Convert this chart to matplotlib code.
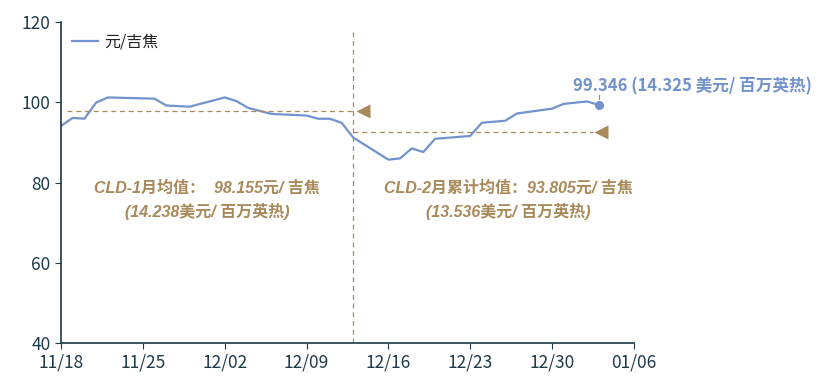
import numpy as np
import pandas as pd
import matplotlib
matplotlib.use("Agg")
from matplotlib import pyplot as plt
import matplotlib.dates as mdates

plt.rcParams['font.family'] = ['Liberation Sans Narrow', 'Noto Sans CJK SC', 'DejaVu Sans']

# price series, yuan per GJ
dates = ["2024-11-18", "2024-11-19", "2024-11-20", "2024-11-21", "2024-11-22",
         "2024-11-26", "2024-11-27", "2024-11-29", "2024-12-02", "2024-12-03",
         "2024-12-04", "2024-12-06", "2024-12-09", "2024-12-10", "2024-12-11",
         "2024-12-12", "2024-12-13", "2024-12-16", "2024-12-17", "2024-12-18",
         "2024-12-19", "2024-12-20", "2024-12-23", "2024-12-24", "2024-12-26",
         "2024-12-27", "2024-12-30", "2024-12-31", "2025-01-02", "2025-01-03"]
prices = [94.1, 96.1, 95.9, 99.9, 101.2,
          100.9, 99.2, 98.9, 101.2, 100.3,
          98.6, 97.1, 96.7, 95.9, 95.9,
          94.9, 91.2, 85.7, 86.0, 88.5,
          87.6, 90.9, 91.6, 94.9, 95.4,
          97.2, 98.4, 99.6, 100.2, 99.346]

avg1_value = 97.8       # drawn level of CLD-1 average
avg2_value = 92.6       # drawn level of CLD-2 cumulative average
split_date = "2024-12-13"
avg1_start = "2024-11-18"
ticks = ["2024-11-18", "2024-11-25", "2024-12-02", "2024-12-09",
         "2024-12-16", "2024-12-23", "2024-12-30", "2025-01-06"]

line_color = '#7192CC'
tan = '#A8895A'
axis_color = '#1E3A48'
ann_font = ['Liberation Sans', 'Noto Sans CJK SC', 'DejaVu Sans']

x = pd.to_datetime(dates)
split = pd.Timestamp(split_date)

fig = plt.figure(figsize=(8.22, 3.81), dpi=100)
ax = fig.add_axes([0.0742, 0.0997, 0.6969, 0.8425])

ax.plot(x, prices, color=line_color, lw=1.6, label='元/吉焦')
ax.plot(x[-1], prices[-1], 'o', color=line_color, ms=5.5)

# average lines
ax.plot([pd.Timestamp(avg1_start) + pd.Timedelta(hours=12), split], [avg1_value, avg1_value],
        ls=(0, (4, 3)), color=tan, lw=0.9)
ax.plot([split, pd.Timestamp("2025-01-03") - pd.Timedelta(hours=12)], [avg2_value, avg2_value],
        ls=(0, (4, 3)), color=tan, lw=0.9)
ax.plot([split + pd.Timedelta(hours=20)], [avg1_value], marker='<', color=tan, ms=10, mec='none')
ax.plot([pd.Timestamp("2025-01-03") + pd.Timedelta(hours=4)], [avg2_value], marker='<', color=tan, ms=10, mec='none')
ax.plot([split, split], [40, 117.5], ls=(0, (4, 3)), color=tan, lw=0.9)

ax.text(pd.Timestamp("2024-11-30") + pd.Timedelta(hours=12), 75.6,
        'CLD-1月均值：  98.155元/ 吉焦\n(14.238美元/ 百万英热)',
        ha='center', va='center', color=tan, fontsize=11.5, fontweight='bold',
        style='italic', linespacing=1.45, family=ann_font)
ax.text(pd.Timestamp("2024-12-26") + pd.Timedelta(hours=6), 75.6,
        'CLD-2月累计均值：93.805元/ 吉焦\n(13.536美元/ 百万英热)',
        ha='center', va='center', color=tan, fontsize=11.5, fontweight='bold',
        style='italic', linespacing=1.45, family=ann_font)

# last value label
ax.plot([x[-1], x[-1]], [100.9, 101.8], color=line_color, lw=0.8)
ax.text(pd.Timestamp("2024-12-31") + pd.Timedelta(hours=20), 101.6,
        '99.346 (14.325 美元/ 百万英热)', ha='left', va='bottom',
        color=line_color, fontsize=12, fontweight='bold', clip_on=False,
        family=['Noto Sans CJK SC', 'DejaVu Sans'])

ax.set_xlim(pd.Timestamp(ticks[0]), pd.Timestamp(ticks[-1]))
ax.set_ylim(40, 120)
ax.set_yticks([40, 60, 80, 100, 120])
ax.set_xticks(pd.to_datetime(ticks))
ax.xaxis.set_major_formatter(mdates.DateFormatter('%m/%d'))

for s in ['top', 'right']:
    ax.spines[s].set_visible(False)
for s in ['left', 'bottom']:
    ax.spines[s].set_color(axis_color)
    ax.spines[s].set_linewidth(1.2)
ax.tick_params(colors=axis_color, labelsize=12.5, length=4, direction='out')

leg = ax.legend(loc='upper left', frameon=False, handlelength=1.6,
                borderaxespad=0.3, handletextpad=0.4,
                prop={'family': ['Noto Sans CJK SC', 'DejaVu Sans'], 'size': 11.5})
for t in leg.get_texts():
    t.set_color('#222222')

fig.savefig('out.png', dpi=100)
